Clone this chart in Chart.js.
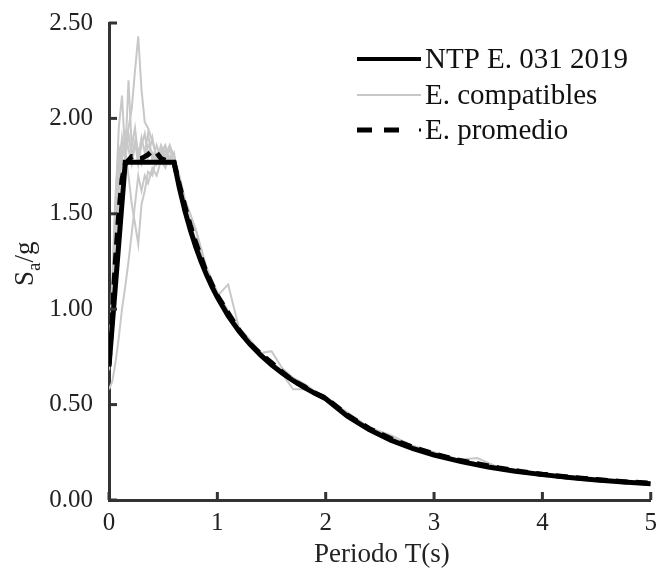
<!DOCTYPE html>
<html lang="es">
<head>
  <meta charset="UTF-8" />
  <title>Espectros compatibles</title>
  <script src="https://cdn.jsdelivr.net/npm/chart.js"></script>
  <style>
    body { margin: 0; background: #fff; }
    .wrap { width: 657px; height: 574px; }
  </style>
</head>
<body>
<div class="wrap"><canvas id="espectro" width="657" height="574"></canvas></div>

<script>
// periodos comunes para los espectros compatibles y el promedio
const periodos = [0, 0.03, 0.06, 0.09, 0.12, 0.15, 0.18, 0.21, 0.24, 0.27, 0.30, 0.33, 0.36, 0.40, 0.44, 0.48,
  0.52, 0.56, 0.60, 0.65, 0.70, 0.75, 0.80, 0.85, 0.90, 1.0, 1.1, 1.2, 1.3, 1.4, 1.5, 1.6, 1.7, 1.8, 1.9, 2.0,
  2.2, 2.4, 2.6, 2.8, 3.0, 3.2, 3.4, 3.6, 3.8, 4.0, 4.25, 4.5, 4.75, 5.0];

// espectro de diseño NTP E.031
const ntpT = [0, 0.15, 0.6, 0.65, 0.7, 0.75, 0.8, 0.85, 0.9, 0.95, 1.0, 1.1, 1.2, 1.3, 1.4, 1.5, 1.6, 1.7, 1.8,
  1.9, 2.0, 2.2, 2.4, 2.6, 2.8, 3.0, 3.25, 3.5, 3.75, 4.0, 4.25, 4.5, 4.75, 5.0];
const ntpSa = [0.70, 1.77, 1.77, 1.634, 1.517, 1.416, 1.328, 1.249, 1.18, 1.118, 1.062, 0.965, 0.885, 0.817,
  0.759, 0.708, 0.664, 0.625, 0.59, 0.559, 0.531, 0.439, 0.369, 0.314, 0.271, 0.236, 0.201, 0.173, 0.151,
  0.133, 0.118, 0.105, 0.094, 0.085];

// espectros compatibles
const comp1 = [0.70, 0.95, 1.30, 1.62, 1.80, 1.88, 1.95, 2.05, 2.25, 2.43, 2.15, 1.98, 1.95, 1.88, 1.80, 1.84,
  1.76, 1.80, 1.74, 1.62, 1.50, 1.44, 1.34, 1.26, 1.17, 1.05, 0.96, 0.88, 0.82, 0.77, 0.71, 0.67, 0.63, 0.60,
  0.56, 0.53, 0.45, 0.37, 0.32, 0.28, 0.245, 0.21, 0.19, 0.17, 0.15, 0.135, 0.12, 0.107, 0.097, 0.088];
const comp2 = [0.72, 1.10, 1.55, 1.95, 2.12, 1.80, 2.20, 1.85, 1.95, 1.80, 1.90, 1.82, 1.92, 1.78, 1.86, 1.78,
  1.84, 1.76, 1.78, 1.66, 1.55, 1.46, 1.42, 1.30, 1.20, 1.07, 1.13, 0.90, 0.83, 0.76, 0.72, 0.68, 0.64, 0.60,
  0.56, 0.535, 0.44, 0.375, 0.33, 0.275, 0.24, 0.21, 0.22, 0.17, 0.15, 0.135, 0.12, 0.106, 0.095, 0.087];
const comp3 = [0.58, 0.62, 0.72, 0.85, 1.00, 1.12, 1.25, 1.40, 1.55, 1.70, 1.62, 1.70, 1.66, 1.74, 1.70, 1.78,
  1.74, 1.80, 1.76, 1.64, 1.52, 1.42, 1.32, 1.25, 1.18, 1.06, 0.97, 0.88, 0.81, 0.76, 0.70, 0.66, 0.58, 0.58,
  0.56, 0.53, 0.44, 0.37, 0.315, 0.27, 0.235, 0.205, 0.185, 0.165, 0.148, 0.134, 0.119, 0.105, 0.094, 0.086];
const comp4 = [0.75, 1.05, 1.45, 1.75, 1.88, 1.82, 1.70, 1.55, 1.45, 1.34, 1.55, 1.62, 1.72, 1.70, 1.80, 1.82,
  1.78, 1.84, 1.76, 1.68, 1.56, 1.45, 1.36, 1.24, 1.19, 1.08, 0.98, 0.90, 0.84, 0.77, 0.78, 0.69, 0.64, 0.61,
  0.57, 0.54, 0.45, 0.38, 0.34, 0.285, 0.25, 0.215, 0.19, 0.17, 0.152, 0.137, 0.121, 0.108, 0.097, 0.088];
const comp5 = [0.68, 0.98, 1.35, 1.70, 1.90, 1.78, 1.92, 1.80, 1.88, 1.76, 1.86, 1.92, 1.80, 1.90, 1.78, 1.86,
  1.80, 1.86, 1.80, 1.70, 1.58, 1.50, 1.42, 1.32, 1.22, 1.09, 0.99, 0.89, 0.82, 0.76, 0.72, 0.67, 0.63, 0.595,
  0.565, 0.535, 0.46, 0.38, 0.32, 0.285, 0.245, 0.215, 0.19, 0.168, 0.15, 0.136, 0.12, 0.107, 0.096, 0.087];
const comp6 = [0.72, 1.15, 1.60, 1.85, 1.78, 1.92, 1.84, 1.76, 1.86, 1.84, 1.76, 1.80, 1.86, 1.82, 1.76, 1.82,
  1.86, 1.78, 1.82, 1.64, 1.53, 1.43, 1.33, 1.27, 1.18, 1.06, 0.97, 0.89, 0.82, 0.76, 0.71, 0.67, 0.62, 0.59,
  0.56, 0.53, 0.44, 0.37, 0.32, 0.275, 0.24, 0.21, 0.185, 0.166, 0.149, 0.134, 0.119, 0.106, 0.095, 0.086];

// espectro promedio
const promedio = [0.71, 0.97, 1.26, 1.50, 1.68, 1.76, 1.78, 1.80, 1.80, 1.79, 1.79, 1.80, 1.81, 1.83, 1.82, 1.79,
  1.78, 1.78, 1.77, 1.65, 1.54, 1.44, 1.35, 1.27, 1.19, 1.07, 0.98, 0.89, 0.82, 0.765, 0.72, 0.67, 0.625, 0.595,
  0.56, 0.535, 0.445, 0.375, 0.322, 0.277, 0.242, 0.211, 0.19, 0.168, 0.15, 0.135, 0.12, 0.107, 0.096, 0.088];

const xTicks = [0, 1, 2, 3, 4, 5];
const yTicks = [0, 0.5, 1.0, 1.5, 2.0, 2.5];

const FONT = "'Liberation Serif', 'Times New Roman', serif";
const AXIS = '#333333';

function puntos(xs, ys) {
  return xs.map((x, i) => ({ x: x, y: ys[i] }));
}

const grises = [comp1, comp2, comp3, comp4, comp5, comp6].map((serie, i) => ({
  label: i === 0 ? 'E. compatibles' : '',
  data: puntos(periodos, serie),
  borderColor: '#c8c8c8',
  borderWidth: 2,
  pointRadius: 0,
  tension: 0,
  order: 2
}));

// ticks hacia adentro, titulos y leyenda
const extras = {
  id: 'extras',
  afterDraw(chart) {
    const ctx = chart.ctx;
    const xs = chart.scales.x, ys = chart.scales.y;
    const area = chart.chartArea;
    ctx.save();
    ctx.strokeStyle = AXIS;
    ctx.lineWidth = 3;
    xTicks.forEach(v => {
      const px = xs.getPixelForValue(v);
      ctx.beginPath(); ctx.moveTo(px, area.bottom); ctx.lineTo(px, area.bottom - 8); ctx.stroke();
    });
    yTicks.forEach(v => {
      const py = ys.getPixelForValue(v);
      ctx.beginPath(); ctx.moveTo(area.left, py); ctx.lineTo(area.left + 8, py); ctx.stroke();
    });

    // titulo eje x
    ctx.fillStyle = '#222';
    ctx.font = '27px ' + FONT;
    ctx.textAlign = 'center';
    ctx.textBaseline = 'alphabetic';
    ctx.fillText('Periodo T(s)', (area.left + area.right) / 2 + 2, 562);

    // titulo eje y: S_a/g
    ctx.translate(33, 286);
    ctx.rotate(-Math.PI / 2);
    ctx.textAlign = 'left';
    ctx.font = '27px ' + FONT;
    ctx.fillText('S', 0, 0);
    let w = ctx.measureText('S').width;
    ctx.font = '19px ' + FONT;
    ctx.fillText('a', w, 7);
    w += ctx.measureText('a').width;
    ctx.font = '27px ' + FONT;
    ctx.fillText('/g', w, 0);
    ctx.restore();

    // leyenda
    ctx.save();
    const filas = [
      { txt: 'NTP E. 031 2019', color: '#000', ancho: 4, dash: [], y: 59, fin: 421 },
      { txt: 'E. compatibles', color: '#c8c8c8', ancho: 2, dash: [], y: 95, fin: 421 },
      { txt: 'E. promedio', color: '#000', ancho: 5, dash: [15, 12], y: 130, fin: 399 }
    ];
    filas.forEach((f, i) => {
      ctx.strokeStyle = f.color;
      ctx.lineWidth = f.ancho;
      ctx.setLineDash(f.dash);
      ctx.beginPath(); ctx.moveTo(357, f.y); ctx.lineTo(f.fin, f.y); ctx.stroke();
      ctx.setLineDash([]);
      if (i === 2) {
        ctx.fillStyle = '#000';
        ctx.fillRect(419, f.y - 1.5, 2, 3);
      }
      ctx.fillStyle = '#111';
      ctx.font = '29px ' + FONT;
      ctx.textAlign = 'left';
      ctx.textBaseline = 'middle';
      ctx.fillText(f.txt, 425, f.y + 1);
    });
    ctx.restore();
  }
};

new Chart(document.getElementById('espectro'), {
  type: 'line',
  data: {
    datasets: [
      {
        label: 'E. promedio',
        data: puntos(periodos, promedio),
        borderColor: '#000',
        borderWidth: 5,
        borderDash: [12, 8],
        pointRadius: 0,
        tension: 0,
        order: 0
      },
      {
        label: 'NTP E. 031 2019',
        data: puntos(ntpT, ntpSa),
        borderColor: '#000',
        borderWidth: 5,
        pointRadius: 0,
        tension: 0,
        order: 1
      },
      ...grises
    ]
  },
  options: {
    responsive: false,
    animation: false,
    layout: { padding: { top: 20, right: 6, left: 0, bottom: 0 } },
    plugins: {
      legend: { display: false },
      title: { display: false },
      tooltip: { enabled: false }
    },
    scales: {
      x: {
        type: 'linear',
        min: 0,
        max: 5,
        afterFit: s => { s.height = 74; },
        afterBuildTicks: s => { s.ticks = xTicks.map(v => ({ value: v })); },
        grid: { display: false },
        border: { display: true, color: AXIS, width: 3 },
        ticks: {
          color: '#222',
          padding: 0,
          maxRotation: 0,
          font: { family: FONT, size: 25 },
          callback: v => String(v)
        }
      },
      y: {
        min: 0,
        max: 2.5,
        afterFit: s => { s.width = 109; },
        afterBuildTicks: s => { s.ticks = yTicks.map(v => ({ value: v })); },
        grid: { display: false },
        border: { display: true, color: AXIS, width: 3 },
        ticks: {
          color: '#222',
          padding: 8,
          font: { family: FONT, size: 25 },
          callback: v => Number(v).toFixed(2)
        }
      }
    }
  },
  plugins: [extras]
});
</script>
</body>
</html>
